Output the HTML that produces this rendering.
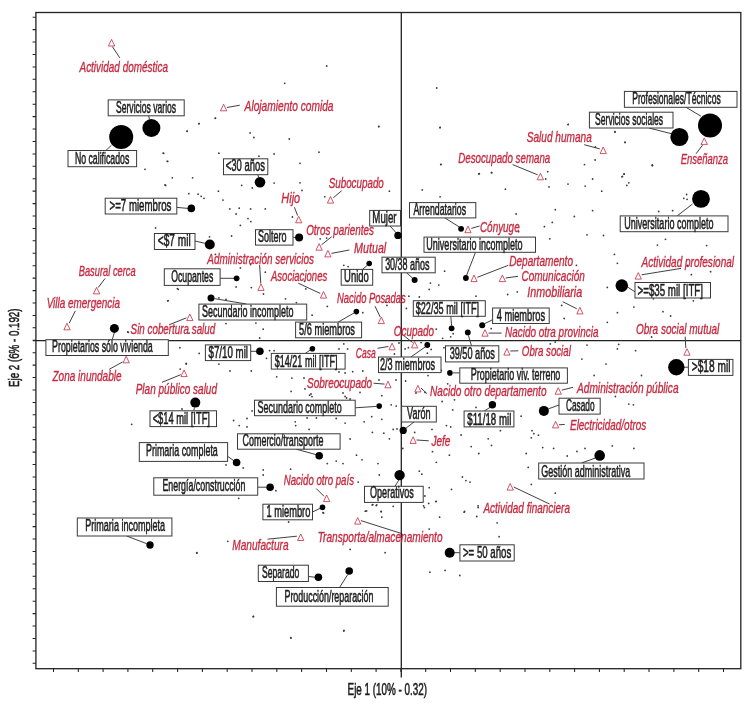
<!DOCTYPE html>
<html><head><meta charset="utf-8"><title>Eje 1 / Eje 2</title>
<style>html,body{margin:0;padding:0;background:#fff}svg{display:block}text{font-family:"Liberation Sans",sans-serif}.b{fill:#1c1c1c;font-size:15.7px;stroke:#1c1c1c;stroke-width:.55px}.r{fill:#c52b40;font-size:14.6px;font-style:italic;stroke:#c52b40;stroke-width:.36px}.bx{fill:#fff;stroke:#3a3a3a;stroke-width:1}.ld{stroke:#363636;stroke-width:.95;fill:none}.tr{fill:#fff;stroke:#c52b40;stroke-width:.8;stroke-linejoin:miter}.d{fill:#000}.s{fill:#3c3c3c}.ax{stroke:#222;stroke-width:1.3;fill:none}.tk{stroke:#222;stroke-width:1.05;fill:none}</style></head><body>
<svg width="750" height="709" viewBox="0 0 750 709" style="will-change:transform;transform:translateZ(0)">
<g>
<rect x="0" y="0" width="750" height="709" fill="#fff"/>
<path class="tk" d="M53.5 668.7V672.0M78.3 668.7V672.0M103.1 668.7V672.0M127.9 668.7V672.0M152.7 668.7V672.0M177.6 668.7V672.0M202.4 668.7V672.0M227.2 668.7V672.0M252.0 668.7V672.0M276.8 668.7V672.0M301.6 668.7V672.0M326.5 668.7V672.0M351.3 668.7V672.0M376.1 668.7V672.0M400.9 668.7V672.0M425.7 668.7V672.0M450.5 668.7V672.0M475.3 668.7V672.0M500.2 668.7V672.0M525.0 668.7V672.0M549.8 668.7V672.0M574.6 668.7V672.0M599.4 668.7V672.0M624.2 668.7V672.0M649.0 668.7V672.0M673.9 668.7V672.0M698.7 668.7V672.0M723.5 668.7V672.0M35.9 17.2H32.6M35.9 29.6H32.6M35.9 42.0H32.6M35.9 54.5H32.6M35.9 66.9H32.6M35.9 79.3H32.6M35.9 91.8H32.6M35.9 104.2H32.6M35.9 116.6H32.6M35.9 129.0H32.6M35.9 141.4H32.6M35.9 153.9H32.6M35.9 166.3H32.6M35.9 178.7H32.6M35.9 191.1H32.6M35.9 203.6H32.6M35.9 216.0H32.6M35.9 228.4H32.6M35.9 240.8H32.6M35.9 253.3H32.6M35.9 265.7H32.6M35.9 278.1H32.6M35.9 290.6H32.6M35.9 303.0H32.6M35.9 315.4H32.6M35.9 327.8H32.6M35.9 340.2H32.6M35.9 352.7H32.6M35.9 365.1H32.6M35.9 377.5H32.6M35.9 389.9H32.6M35.9 402.4H32.6M35.9 414.8H32.6M35.9 427.2H32.6M35.9 439.6H32.6M35.9 452.1H32.6M35.9 464.5H32.6M35.9 476.9H32.6M35.9 489.4H32.6M35.9 501.8H32.6M35.9 514.2H32.6M35.9 526.6H32.6M35.9 539.0H32.6M35.9 551.5H32.6M35.9 563.9H32.6M35.9 576.3H32.6M35.9 588.8H32.6M35.9 601.2H32.6M35.9 613.6H32.6M35.9 626.0H32.6M35.9 638.5H32.6M35.9 650.9H32.6M35.9 663.3H32.6"/>
<g class="s"><circle cx="199.0" cy="123.7" r=".9"/><circle cx="215.3" cy="118.3" r=".9"/><circle cx="187.0" cy="131.3" r=".9"/><circle cx="163.7" cy="153.3" r=".9"/><circle cx="167.7" cy="161.3" r=".9"/><circle cx="145.0" cy="169.3" r=".9"/><circle cx="326.7" cy="66.0" r=".9"/><circle cx="284.7" cy="83.3" r=".9"/><circle cx="378.7" cy="126.7" r=".9"/><circle cx="436.7" cy="88.0" r=".9"/><circle cx="440.0" cy="127.7" r=".9"/><circle cx="441.0" cy="164.3" r=".9"/><circle cx="479.3" cy="173.7" r=".9"/><circle cx="491.7" cy="172.7" r=".9"/><circle cx="568.3" cy="124.3" r=".9"/><circle cx="652.3" cy="165.0" r=".9"/><circle cx="165.0" cy="185.0" r=".9"/><circle cx="127.7" cy="332.0" r=".9"/><circle cx="131.7" cy="424.3" r=".9"/><circle cx="253.3" cy="616.7" r=".9"/><circle cx="290.7" cy="637.7" r=".9"/><circle cx="344.0" cy="630.3" r=".9"/><circle cx="196.7" cy="553.0" r=".9"/><circle cx="215.4" cy="118.2" r=".9"/><circle cx="198.9" cy="123.6" r=".9"/><circle cx="187.2" cy="131.2" r=".9"/><circle cx="250.1" cy="132.9" r=".9"/><circle cx="253.9" cy="137.5" r=".9"/><circle cx="289.3" cy="139.0" r=".9"/><circle cx="163.2" cy="153.2" r=".9"/><circle cx="218.9" cy="153.2" r=".9"/><circle cx="258.9" cy="156.2" r=".9"/><circle cx="274.1" cy="154.0" r=".9"/><circle cx="319.0" cy="152.2" r=".9"/><circle cx="167.2" cy="161.3" r=".9"/><circle cx="300.0" cy="163.3" r=".9"/><circle cx="172.3" cy="177.8" r=".9"/><circle cx="192.6" cy="177.8" r=".9"/><circle cx="165.7" cy="185.4" r=".9"/><circle cx="274.1" cy="183.1" r=".9"/><circle cx="241.7" cy="185.4" r=".9"/><circle cx="252.3" cy="187.9" r=".9"/><circle cx="300.0" cy="182.8" r=".9"/><circle cx="302.0" cy="190.4" r=".9"/><circle cx="188.8" cy="193.7" r=".9"/><circle cx="198.1" cy="194.2" r=".9"/><circle cx="201.2" cy="196.3" r=".9"/><circle cx="204.0" cy="198.3" r=".9"/><circle cx="218.4" cy="191.2" r=".9"/><circle cx="223.0" cy="200.1" r=".9"/><circle cx="324.8" cy="196.8" r=".9"/><circle cx="229.8" cy="208.9" r=".9"/><circle cx="239.2" cy="208.2" r=".9"/><circle cx="250.6" cy="208.9" r=".9"/><circle cx="236.1" cy="214.0" r=".9"/><circle cx="265.3" cy="208.9" r=".9"/><circle cx="248.0" cy="218.6" r=".9"/><circle cx="250.8" cy="221.6" r=".9"/><circle cx="240.4" cy="225.4" r=".9"/><circle cx="292.4" cy="217.0" r=".9"/><circle cx="155.6" cy="227.9" r=".9"/><circle cx="231.6" cy="236.0" r=".9"/><circle cx="209.5" cy="236.8" r=".9"/><circle cx="326.6" cy="238.1" r=".9"/><circle cx="320.2" cy="238.8" r=".9"/><circle cx="378.8" cy="126.3" r=".9"/><circle cx="440.1" cy="127.4" r=".9"/><circle cx="440.8" cy="164.6" r=".9"/><circle cx="478.8" cy="174.0" r=".9"/><circle cx="491.5" cy="172.7" r=".9"/><circle cx="389.4" cy="191.2" r=".9"/><circle cx="422.3" cy="189.9" r=".9"/><circle cx="440.1" cy="196.8" r=".9"/><circle cx="505.4" cy="189.2" r=".9"/><circle cx="516.1" cy="214.0" r=".9"/><circle cx="518.6" cy="231.7" r=".9"/><circle cx="568.0" cy="124.6" r=".9"/><circle cx="614.9" cy="131.7" r=".9"/><circle cx="625.0" cy="142.3" r=".9"/><circle cx="595.4" cy="146.9" r=".9"/><circle cx="595.1" cy="160.0" r=".9"/><circle cx="584.5" cy="164.6" r=".9"/><circle cx="652.4" cy="165.4" r=".9"/><circle cx="547.7" cy="171.7" r=".9"/><circle cx="545.7" cy="179.0" r=".9"/><circle cx="624.2" cy="174.2" r=".9"/><circle cx="622.0" cy="176.8" r=".9"/><circle cx="592.6" cy="179.0" r=".9"/><circle cx="568.0" cy="184.1" r=".9"/><circle cx="585.2" cy="186.1" r=".9"/><circle cx="549.0" cy="186.9" r=".9"/><circle cx="628.8" cy="182.8" r=".9"/><circle cx="626.8" cy="185.4" r=".9"/><circle cx="601.7" cy="191.2" r=".9"/><circle cx="686.6" cy="194.5" r=".9"/><circle cx="683.8" cy="198.3" r=".9"/><circle cx="687.1" cy="199.3" r=".9"/><circle cx="555.3" cy="209.7" r=".9"/><circle cx="592.6" cy="210.7" r=".9"/><circle cx="658.7" cy="211.5" r=".9"/><circle cx="672.6" cy="210.7" r=".9"/><circle cx="574.3" cy="216.5" r=".9"/><circle cx="552.3" cy="222.4" r=".9"/><circle cx="544.4" cy="226.7" r=".9"/><circle cx="587.0" cy="234.8" r=".9"/><circle cx="603.5" cy="235.5" r=".9"/><circle cx="549.8" cy="238.8" r=".9"/><circle cx="697.2" cy="228.7" r=".9"/><circle cx="665.5" cy="239.3" r=".9"/><circle cx="215.4" cy="254.4" r=".9"/><circle cx="240.4" cy="267.9" r=".9"/><circle cx="250.6" cy="264.6" r=".9"/><circle cx="265.3" cy="272.2" r=".9"/><circle cx="167.7" cy="300.8" r=".9"/><circle cx="177.4" cy="288.6" r=".9"/><circle cx="236.1" cy="286.9" r=".9"/><circle cx="251.3" cy="287.6" r=".9"/><circle cx="305.8" cy="288.9" r=".9"/><circle cx="304.5" cy="281.3" r=".9"/><circle cx="263.5" cy="294.0" r=".9"/><circle cx="285.5" cy="298.8" r=".9"/><circle cx="296.4" cy="302.6" r=".9"/><circle cx="218.9" cy="297.8" r=".9"/><circle cx="226.0" cy="299.5" r=".9"/><circle cx="327.3" cy="306.4" r=".9"/><circle cx="312.1" cy="315.2" r=".9"/><circle cx="255.9" cy="323.1" r=".9"/><circle cx="226.0" cy="323.6" r=".9"/><circle cx="263.2" cy="329.2" r=".9"/><circle cx="259.7" cy="338.0" r=".9"/><circle cx="186.2" cy="363.4" r=".9"/><circle cx="179.9" cy="347.7" r=".9"/><circle cx="218.9" cy="364.1" r=".9"/><circle cx="269.6" cy="350.7" r=".9"/><circle cx="266.5" cy="358.3" r=".9"/><circle cx="274.1" cy="350.7" r=".9"/><circle cx="291.9" cy="378.1" r=".9"/><circle cx="251.3" cy="371.0" r=".9"/><circle cx="276.7" cy="376.8" r=".9"/><circle cx="343.8" cy="265.3" r=".9"/><circle cx="348.1" cy="266.6" r=".9"/><circle cx="444.6" cy="271.2" r=".9"/><circle cx="430.4" cy="283.1" r=".9"/><circle cx="438.8" cy="285.1" r=".9"/><circle cx="429.2" cy="289.4" r=".9"/><circle cx="419.3" cy="297.0" r=".9"/><circle cx="476.0" cy="296.2" r=".9"/><circle cx="507.7" cy="294.5" r=".9"/><circle cx="517.3" cy="291.9" r=".9"/><circle cx="408.9" cy="296.2" r=".9"/><circle cx="386.9" cy="305.4" r=".9"/><circle cx="385.6" cy="302.1" r=".9"/><circle cx="406.4" cy="308.4" r=".9"/><circle cx="362.8" cy="312.7" r=".9"/><circle cx="436.3" cy="329.2" r=".9"/><circle cx="491.2" cy="328.7" r=".9"/><circle cx="442.6" cy="338.3" r=".9"/><circle cx="450.7" cy="336.8" r=".9"/><circle cx="453.2" cy="333.7" r=".9"/><circle cx="421.1" cy="342.6" r=".9"/><circle cx="408.4" cy="347.7" r=".9"/><circle cx="405.1" cy="348.9" r=".9"/><circle cx="443.9" cy="347.7" r=".9"/><circle cx="431.2" cy="349.4" r=".9"/><circle cx="343.8" cy="343.9" r=".9"/><circle cx="347.6" cy="348.9" r=".9"/><circle cx="427.4" cy="353.2" r=".9"/><circle cx="481.1" cy="351.5" r=".9"/><circle cx="352.7" cy="371.7" r=".9"/><circle cx="345.1" cy="373.0" r=".9"/><circle cx="362.8" cy="371.0" r=".9"/><circle cx="441.3" cy="370.5" r=".9"/><circle cx="657.4" cy="245.1" r=".9"/><circle cx="706.6" cy="245.6" r=".9"/><circle cx="614.4" cy="254.4" r=".9"/><circle cx="617.4" cy="263.3" r=".9"/><circle cx="576.4" cy="265.3" r=".9"/><circle cx="687.6" cy="265.3" r=".9"/><circle cx="691.4" cy="274.7" r=".9"/><circle cx="710.6" cy="271.7" r=".9"/><circle cx="607.3" cy="287.4" r=".9"/><circle cx="633.9" cy="307.1" r=".9"/><circle cx="617.4" cy="312.7" r=".9"/><circle cx="663.0" cy="311.7" r=".9"/><circle cx="670.6" cy="316.0" r=".9"/><circle cx="693.4" cy="300.8" r=".9"/><circle cx="653.4" cy="298.8" r=".9"/><circle cx="564.2" cy="318.5" r=".9"/><circle cx="607.3" cy="322.3" r=".9"/><circle cx="561.7" cy="305.4" r=".9"/><circle cx="555.3" cy="342.1" r=".9"/><circle cx="550.3" cy="343.9" r=".9"/><circle cx="587.0" cy="345.1" r=".9"/><circle cx="618.7" cy="344.4" r=".9"/><circle cx="617.4" cy="348.9" r=".9"/><circle cx="651.6" cy="337.0" r=".9"/><circle cx="606.0" cy="364.1" r=".9"/><circle cx="581.9" cy="359.1" r=".9"/><circle cx="635.6" cy="350.7" r=".9"/><circle cx="641.5" cy="375.5" r=".9"/><circle cx="594.1" cy="375.5" r=".9"/><circle cx="291.1" cy="391.4" r=".9"/><circle cx="305.0" cy="388.9" r=".9"/><circle cx="309.6" cy="395.2" r=".9"/><circle cx="252.1" cy="410.9" r=".9"/><circle cx="247.0" cy="418.5" r=".9"/><circle cx="233.6" cy="420.5" r=".9"/><circle cx="239.2" cy="425.6" r=".9"/><circle cx="247.0" cy="426.9" r=".9"/><circle cx="295.2" cy="421.8" r=".9"/><circle cx="307.1" cy="418.0" r=".9"/><circle cx="316.4" cy="418.0" r=".9"/><circle cx="336.2" cy="418.5" r=".9"/><circle cx="295.7" cy="425.6" r=".9"/><circle cx="309.1" cy="429.4" r=".9"/><circle cx="226.0" cy="464.9" r=".9"/><circle cx="243.2" cy="467.9" r=".9"/><circle cx="263.2" cy="469.9" r=".9"/><circle cx="263.2" cy="475.0" r=".9"/><circle cx="290.6" cy="469.2" r=".9"/><circle cx="275.9" cy="490.7" r=".9"/><circle cx="238.7" cy="498.3" r=".9"/><circle cx="336.2" cy="461.1" r=".9"/><circle cx="327.3" cy="463.6" r=".9"/><circle cx="323.5" cy="513.0" r=".9"/><circle cx="350.1" cy="399.0" r=".9"/><circle cx="345.1" cy="396.5" r=".9"/><circle cx="381.8" cy="395.7" r=".9"/><circle cx="391.2" cy="404.8" r=".9"/><circle cx="396.2" cy="406.1" r=".9"/><circle cx="371.7" cy="416.7" r=".9"/><circle cx="381.8" cy="419.3" r=".9"/><circle cx="364.1" cy="421.8" r=".9"/><circle cx="345.1" cy="423.1" r=".9"/><circle cx="372.4" cy="432.4" r=".9"/><circle cx="383.8" cy="433.2" r=".9"/><circle cx="393.2" cy="429.4" r=".9"/><circle cx="397.0" cy="428.9" r=".9"/><circle cx="350.1" cy="439.0" r=".9"/><circle cx="389.4" cy="438.8" r=".9"/><circle cx="356.5" cy="455.2" r=".9"/><circle cx="362.0" cy="459.8" r=".9"/><circle cx="378.0" cy="463.6" r=".9"/><circle cx="379.3" cy="475.0" r=".9"/><circle cx="358.2" cy="482.1" r=".9"/><circle cx="343.0" cy="463.6" r=".9"/><circle cx="402.8" cy="448.4" r=".9"/><circle cx="414.7" cy="432.4" r=".9"/><circle cx="432.0" cy="429.4" r=".9"/><circle cx="446.4" cy="425.6" r=".9"/><circle cx="450.7" cy="426.9" r=".9"/><circle cx="452.7" cy="409.9" r=".9"/><circle cx="442.1" cy="401.5" r=".9"/><circle cx="454.5" cy="399.8" r=".9"/><circle cx="447.7" cy="383.8" r=".9"/><circle cx="476.0" cy="407.4" r=".9"/><circle cx="521.1" cy="416.2" r=".9"/><circle cx="461.1" cy="435.0" r=".9"/><circle cx="488.2" cy="438.8" r=".9"/><circle cx="500.4" cy="430.7" r=".9"/><circle cx="471.2" cy="446.6" r=".9"/><circle cx="491.5" cy="445.4" r=".9"/><circle cx="432.5" cy="451.7" r=".9"/><circle cx="449.4" cy="455.2" r=".9"/><circle cx="478.8" cy="453.5" r=".9"/><circle cx="436.3" cy="462.3" r=".9"/><circle cx="419.3" cy="471.2" r=".9"/><circle cx="421.8" cy="474.2" r=".9"/><circle cx="462.4" cy="477.0" r=".9"/><circle cx="465.9" cy="480.6" r=".9"/><circle cx="470.0" cy="482.1" r=".9"/><circle cx="429.2" cy="487.7" r=".9"/><circle cx="451.5" cy="489.4" r=".9"/><circle cx="424.9" cy="496.0" r=".9"/><circle cx="435.8" cy="501.6" r=".9"/><circle cx="428.7" cy="503.4" r=".9"/><circle cx="372.2" cy="504.9" r=".9"/><circle cx="376.7" cy="504.9" r=".9"/><circle cx="365.3" cy="511.2" r=".9"/><circle cx="381.3" cy="511.7" r=".9"/><circle cx="464.1" cy="512.2" r=".9"/><circle cx="478.1" cy="505.9" r=".9"/><circle cx="423.6" cy="505.9" r=".9"/><circle cx="526.2" cy="453.5" r=".9"/><circle cx="528.2" cy="467.4" r=".9"/><circle cx="615.4" cy="396.5" r=".9"/><circle cx="628.8" cy="404.1" r=".9"/><circle cx="633.4" cy="404.8" r=".9"/><circle cx="532.0" cy="430.7" r=".9"/><circle cx="533.8" cy="433.7" r=".9"/><circle cx="531.3" cy="437.8" r=".9"/><circle cx="538.4" cy="435.2" r=".9"/><circle cx="542.7" cy="447.6" r=".9"/><circle cx="553.6" cy="448.4" r=".9"/><circle cx="567.2" cy="456.0" r=".9"/><circle cx="576.9" cy="451.4" r=".9"/><circle cx="585.0" cy="448.4" r=".9"/><circle cx="612.3" cy="445.9" r=".9"/><circle cx="633.9" cy="448.4" r=".9"/><circle cx="531.3" cy="484.4" r=".9"/><circle cx="555.3" cy="493.2" r=".9"/><circle cx="227.8" cy="541.3" r=".9"/><circle cx="196.9" cy="552.7" r=".9"/><circle cx="253.4" cy="616.5" r=".9"/><circle cx="291.1" cy="638.1" r=".9"/><circle cx="288.6" cy="522.0" r=".9"/><circle cx="323.0" cy="512.7" r=".9"/><circle cx="372.9" cy="504.6" r=".9"/><circle cx="376.2" cy="505.6" r=".9"/><circle cx="366.6" cy="510.9" r=".9"/><circle cx="381.0" cy="511.4" r=".9"/><circle cx="393.2" cy="506.3" r=".9"/><circle cx="381.8" cy="517.2" r=".9"/><circle cx="424.4" cy="507.6" r=".9"/><circle cx="436.3" cy="501.3" r=".9"/><circle cx="439.6" cy="517.2" r=".9"/><circle cx="464.6" cy="511.4" r=".9"/><circle cx="478.1" cy="507.6" r=".9"/><circle cx="476.8" cy="516.5" r=".9"/><circle cx="497.1" cy="522.8" r=".9"/><circle cx="499.1" cy="536.7" r=".9"/><circle cx="429.2" cy="529.1" r=".9"/><circle cx="350.1" cy="549.4" r=".9"/><circle cx="385.1" cy="552.7" r=".9"/><circle cx="429.9" cy="572.2" r=".9"/><circle cx="445.1" cy="570.4" r=".9"/><circle cx="459.8" cy="575.5" r=".9"/><circle cx="343.8" cy="631.0" r=".9"/><circle cx="178.2" cy="289.3" r=".9"/><circle cx="168.1" cy="300.7" r=".9"/><circle cx="128.3" cy="332.3" r=".9"/><circle cx="189.1" cy="333.1" r=".9"/><circle cx="199.2" cy="353.4" r=".9"/><circle cx="186.3" cy="364.0" r=".9"/><circle cx="180.2" cy="369.1" r=".9"/><circle cx="615.0" cy="132.0" r=".9"/><circle cx="625.0" cy="142.4" r=".9"/><circle cx="652.4" cy="165.6" r=".9"/><circle cx="624.0" cy="174.0" r=".9"/><circle cx="622.4" cy="176.4" r=".9"/><circle cx="182.0" cy="409.0" r=".9"/><circle cx="230.0" cy="371.0" r=".9"/><circle cx="339.0" cy="349.0" r=".9"/><circle cx="304.0" cy="378.0" r=".9"/><circle cx="339.0" cy="372.0" r=".9"/><circle cx="340.0" cy="385.0" r=".9"/><circle cx="343.0" cy="393.0" r=".9"/><circle cx="346.6" cy="398.0" r=".9"/><circle cx="360.0" cy="392.4" r=".9"/><circle cx="311.0" cy="394.0" r=".9"/><circle cx="312.0" cy="396.6" r=".9"/><circle cx="379.0" cy="380.0" r=".9"/><circle cx="396.0" cy="380.0" r=".9"/><circle cx="394.4" cy="354.0" r=".9"/><circle cx="399.0" cy="343.0" r=".9"/><circle cx="405.6" cy="381.0" r=".9"/><circle cx="428.0" cy="375.6" r=".9"/><circle cx="416.0" cy="393.0" r=".9"/><circle cx="425.0" cy="392.4" r=".9"/></g>
<rect class="ax" x="35.9" y="12.5" width="704.9" height="656.2"/>
<path class="ax" d="M401.3 12.5V677.5 M32.9 340.6H740.8"/>
<path class="ld" d="M112.3 46.5L119.8 57.8"/>
<path class="ld" d="M226.9 107.5L239.8 105.2"/>
<path class="ld" d="M341.7 190.7L333.3 197.8"/>
<path class="ld" d="M294.4 207.2L297.6 215.6"/>
<path class="ld" d="M331.7 236.7L321.5 244.8"/>
<path class="ld" d="M349.3 250.0L331.5 253.4"/>
<path class="ld" d="M259.6 264.8L260.8 283.5"/>
<path class="ld" d="M298.2 283.2L320.2 293.4"/>
<path class="ld" d="M375.0 306.2L380.2 317.0"/>
<path class="ld" d="M105.0 278.5L98.2 287.6"/>
<path class="ld" d="M75.4 310.8L69.2 323.1"/>
<path class="ld" d="M169.0 324.8L186.3 317.9"/>
<path class="ld" d="M122.5 362.0L109.2 369.3"/>
<path class="ld" d="M162.0 382.3L180.7 374.7"/>
<path class="ld" d="M377.5 348.3L388.4 346.5"/>
<path class="ld" d="M403.8 335.6L412.6 342.6"/>
<path class="ld" d="M373.5 383.2L384.6 384.1"/>
<path class="ld" d="M316.3 488.6L324.0 496.3"/>
<path class="ld" d="M296.9 536.2L267.5 539.2"/>
<path class="ld" d="M360.9 520.6L401.5 533.5"/>
<path class="ld" d="M416.6 440.0L428.8 440.8"/>
<path class="ld" d="M421.0 388.0L427.2 393.8"/>
<path class="ld" d="M513.7 487.0L549.5 504.0"/>
<path class="ld" d="M558.9 424.8L564.8 424.4"/>
<path class="ld" d="M561.8 390.1L573.0 387.3"/>
<path class="ld" d="M510.3 351.0L518.3 350.8"/>
<path class="ld" d="M685.2 336.6L685.8 348.0"/>
<path class="ld" d="M488.5 333.1L501.7 333.1"/>
<path class="ld" d="M562.7 301.7L576.8 308.8"/>
<path class="ld" d="M505.6 278.0L518.0 276.3"/>
<path class="ld" d="M477.3 277.3L508.3 265.3"/>
<path class="ld" d="M681.0 268.4L641.6 274.8"/>
<path class="ld" d="M471.3 228.4L479.6 226.0"/>
<path class="ld" d="M512.6 164.6L537.6 174.8"/>
<path class="ld" d="M584.2 144.7L599.8 148.9"/>
<path class="ld" d="M702.6 145.0L696.0 153.8"/>
<path class="tr" d="M111.6 39.4L114.8 46.0H108.4Z"/>
<path class="tr" d="M223.6 104.3L226.8 110.8H220.4Z"/>
<path class="tr" d="M330.5 196.5L333.6 203.1H327.4Z"/>
<path class="tr" d="M298.7 216.3L301.8 222.8H295.6Z"/>
<path class="tr" d="M319.1 243.6L322.2 250.2H316.0Z"/>
<path class="tr" d="M327.9 250.4L331.0 256.9H324.8Z"/>
<path class="tr" d="M261.0 283.9L264.1 290.4H257.9Z"/>
<path class="tr" d="M323.5 291.6L326.6 298.1H320.4Z"/>
<path class="tr" d="M381.3 317.0L384.4 323.6H378.2Z"/>
<path class="tr" d="M96.6 287.4L99.8 293.9H93.4Z"/>
<path class="tr" d="M67.0 323.2L70.2 329.8H63.9Z"/>
<path class="tr" d="M189.8 314.0L193.0 320.6H186.7Z"/>
<path class="tr" d="M126.2 356.2L129.3 362.8H123.0Z"/>
<path class="tr" d="M184.1 370.0L187.2 376.6H180.9Z"/>
<path class="tr" d="M392.1 343.2L395.2 349.8H389.0Z"/>
<path class="tr" d="M414.6 341.4L417.8 347.9H411.5Z"/>
<path class="tr" d="M388.0 381.2L391.1 387.8H384.9Z"/>
<path class="tr" d="M326.6 495.0L329.8 501.6H323.5Z"/>
<path class="tr" d="M300.7 534.0L303.8 540.5H297.6Z"/>
<path class="tr" d="M357.7 517.6L360.8 524.1H354.6Z"/>
<path class="tr" d="M413.1 436.8L416.2 443.4H410.0Z"/>
<path class="tr" d="M417.9 385.4L421.0 391.9H414.8Z"/>
<path class="tr" d="M510.2 483.5L513.4 490.1H507.1Z"/>
<path class="tr" d="M555.6 421.4L558.8 427.9H552.5Z"/>
<path class="tr" d="M558.3 387.7L561.4 394.2H555.1Z"/>
<path class="tr" d="M506.9 348.5L510.0 355.1H503.8Z"/>
<path class="tr" d="M687.0 348.7L690.1 355.2H683.9Z"/>
<path class="tr" d="M485.0 329.7L488.1 336.2H481.9Z"/>
<path class="tr" d="M579.9 307.3L583.0 313.9H576.8Z"/>
<path class="tr" d="M502.4 275.1L505.5 281.6H499.2Z"/>
<path class="tr" d="M474.0 275.0L477.1 281.6H470.9Z"/>
<path class="tr" d="M638.3 272.6L641.4 279.1H635.1Z"/>
<path class="tr" d="M468.0 226.1L471.1 232.7H464.9Z"/>
<path class="tr" d="M540.4 173.3L543.5 179.8H537.2Z"/>
<path class="tr" d="M603.2 147.0L606.4 153.6H600.1Z"/>
<path class="tr" d="M704.2 137.9L707.4 144.4H701.1Z"/>
<text class="r" x="79.50" y="71.8" textLength="88.48" lengthAdjust="spacingAndGlyphs">Actividad doméstica</text>
<text class="r" x="244.61" y="111.0" textLength="88.87" lengthAdjust="spacingAndGlyphs">Alojamiento comida</text>
<text class="r" x="328.71" y="187.7" textLength="55.10" lengthAdjust="spacingAndGlyphs">Subocupado</text>
<text class="r" x="281.37" y="203.0" textLength="18.78" lengthAdjust="spacingAndGlyphs">Hijo</text>
<text class="r" x="306.15" y="235.0" textLength="67.76" lengthAdjust="spacingAndGlyphs">Otros parientes</text>
<text class="r" x="354.08" y="253.3" textLength="32.17" lengthAdjust="spacingAndGlyphs">Mutual</text>
<text class="r" x="207.30" y="263.6" textLength="106.71" lengthAdjust="spacingAndGlyphs">Administración servicios</text>
<text class="r" x="270.98" y="280.6" textLength="56.24" lengthAdjust="spacingAndGlyphs">Asociaciones</text>
<text class="r" x="337.02" y="302.5" textLength="68.69" lengthAdjust="spacingAndGlyphs">Nacido Posadas</text>
<text class="r" x="78.72" y="276.4" textLength="57.00" lengthAdjust="spacingAndGlyphs">Basural cerca</text>
<text class="r" x="46.66" y="308.3" textLength="73.29" lengthAdjust="spacingAndGlyphs">Villa emergencia</text>
<text class="r" x="130.61" y="334.3" textLength="84.61" lengthAdjust="spacingAndGlyphs">Sin cobertura salud</text>
<text class="r" x="52.50" y="381.3" textLength="69.05" lengthAdjust="spacingAndGlyphs">Zona inundable</text>
<text class="r" x="135.70" y="394.0" textLength="81.32" lengthAdjust="spacingAndGlyphs">Plan público salud</text>
<text class="r" x="355.73" y="357.6" textLength="20.07" lengthAdjust="spacingAndGlyphs">Casa</text>
<text class="r" x="393.76" y="335.5" textLength="40.13" lengthAdjust="spacingAndGlyphs">Ocupado</text>
<text class="r" x="307.00" y="387.6" textLength="65.11" lengthAdjust="spacingAndGlyphs">Sobreocupado</text>
<text class="r" x="283.71" y="485.4" textLength="70.30" lengthAdjust="spacingAndGlyphs">Nacido otro país</text>
<text class="r" x="232.30" y="549.5" textLength="56.25" lengthAdjust="spacingAndGlyphs">Manufactura</text>
<text class="r" x="317.69" y="542.1" textLength="124.83" lengthAdjust="spacingAndGlyphs">Transporta/almacenamiento</text>
<text class="r" x="431.40" y="445.5" textLength="19.05" lengthAdjust="spacingAndGlyphs">Jefe</text>
<text class="r" x="430.10" y="395.7" textLength="116.43" lengthAdjust="spacingAndGlyphs">Nacido otro departamento</text>
<text class="r" x="483.40" y="512.6" textLength="86.57" lengthAdjust="spacingAndGlyphs">Actividad financiera</text>
<text class="r" x="570.00" y="430.3" textLength="76.20" lengthAdjust="spacingAndGlyphs">Electricidad/otros</text>
<text class="r" x="577.01" y="392.5" textLength="101.55" lengthAdjust="spacingAndGlyphs">Administración pública</text>
<text class="r" x="521.87" y="356.3" textLength="48.92" lengthAdjust="spacingAndGlyphs">Obra social</text>
<text class="r" x="635.95" y="333.8" textLength="83.32" lengthAdjust="spacingAndGlyphs">Obra social mutual</text>
<text class="r" x="505.00" y="336.8" textLength="93.43" lengthAdjust="spacingAndGlyphs">Nacido otra provincia</text>
<text class="r" x="527.37" y="297.4" textLength="54.84" lengthAdjust="spacingAndGlyphs">Inmobiliaria</text>
<text class="r" x="521.45" y="281.4" textLength="63.32" lengthAdjust="spacingAndGlyphs">Comunicación</text>
<text class="r" x="509.20" y="266.3" textLength="63.83" lengthAdjust="spacingAndGlyphs">Departamento</text>
<text class="r" x="641.50" y="266.6" textLength="92.58" lengthAdjust="spacingAndGlyphs">Actividad profesional</text>
<text class="r" x="479.95" y="231.6" textLength="39.72" lengthAdjust="spacingAndGlyphs">Cónyuge</text>
<text class="r" x="458.21" y="162.7" textLength="92.04" lengthAdjust="spacingAndGlyphs">Desocupado semana</text>
<text class="r" x="526.70" y="141.7" textLength="65.05" lengthAdjust="spacingAndGlyphs">Salud humana</text>
<text class="r" x="680.72" y="164.3" textLength="47.41" lengthAdjust="spacingAndGlyphs">Enseñanza</text>
<path class="ld" d="M148.6 115.8L149.5 119.5"/>
<path class="ld" d="M111.4 145.3L102.9 153.3"/>
<path class="ld" d="M257.7 174.7L259.0 178.0"/>
<path class="ld" d="M176.8 207.4L188.0 208.4"/>
<path class="ld" d="M195.0 241.0L205.0 243.3"/>
<path class="ld" d="M220.0 278.3L234.0 278.3"/>
<path class="ld" d="M214.4 298.6L246.3 304.0"/>
<path class="ld" d="M114.3 332.7L112.3 339.6"/>
<path class="ld" d="M250.7 351.3L256.0 351.3"/>
<path class="ld" d="M310.3 350.0L305.3 353.4"/>
<path class="ld" d="M354.2 312.9L338.2 322.1"/>
<path class="ld" d="M293.2 237.4L296.0 237.4"/>
<path class="ld" d="M390.0 226.0L396.5 233.2"/>
<path class="ld" d="M367.0 265.6L362.5 269.4"/>
<path class="ld" d="M406.5 272.8L412.7 278.2"/>
<path class="ld" d="M444.8 217.9L459.2 226.9"/>
<path class="ld" d="M475.5 252.3L466.6 275.2"/>
<path class="ld" d="M450.8 316.3L451.6 325.5"/>
<path class="ld" d="M484.5 323.7L492.6 319.7"/>
<path class="ld" d="M468.3 335.2L471.5 345.8"/>
<path class="ld" d="M425.2 347.0L410.8 357.0"/>
<path class="ld" d="M452.8 372.9L459.8 372.9"/>
<path class="ld" d="M490.0 407.4L484.2 411.0"/>
<path class="ld" d="M548.5 408.8L559.0 405.0"/>
<path class="ld" d="M414.0 422.0L405.7 428.4"/>
<path class="ld" d="M355.2 407.8L376.5 406.4"/>
<path class="ld" d="M296.2 449.2L316.0 454.6"/>
<path class="ld" d="M257.7 487.2L266.5 487.2"/>
<path class="ld" d="M227.6 456.3L233.8 460.7"/>
<path class="ld" d="M194.5 407.5L193.7 410.8"/>
<path class="ld" d="M126.7 536.0L146.5 543.6"/>
<path class="ld" d="M312.5 512.0L320.0 508.4"/>
<path class="ld" d="M398.8 480.1L395.0 486.3"/>
<path class="ld" d="M308.4 576.5L315.0 577.2"/>
<path class="ld" d="M347.7 574.7L339.5 587.5"/>
<path class="ld" d="M454.0 552.7L459.9 552.7"/>
<path class="ld" d="M595.4 458.0L581.5 463.0"/>
<path class="ld" d="M684.0 367.2L688.4 367.2"/>
<path class="ld" d="M627.5 287.0L635.0 291.8"/>
<path class="ld" d="M692.5 204.0L677.2 215.9"/>
<path class="ld" d="M649.0 128.0L671.0 133.6"/>
<path class="ld" d="M686.0 107.3L701.0 116.2"/>
<circle class="d" cx="151.4" cy="128.0" r="9.0"/>
<circle class="d" cx="121.2" cy="137.1" r="12.0"/>
<circle class="d" cx="260.0" cy="182.3" r="5.3"/>
<circle class="d" cx="191.3" cy="208.4" r="3.8"/>
<circle class="d" cx="209.8" cy="244.5" r="5.0"/>
<circle class="d" cx="236.6" cy="278.3" r="2.9"/>
<circle class="d" cx="211.0" cy="298.0" r="3.5"/>
<circle class="d" cx="114.4" cy="328.4" r="4.5"/>
<circle class="d" cx="259.9" cy="351.3" r="3.8"/>
<circle class="d" cx="312.4" cy="348.7" r="2.8"/>
<circle class="d" cx="356.4" cy="311.6" r="2.8"/>
<circle class="d" cx="299.1" cy="237.5" r="4.0"/>
<circle class="d" cx="398.0" cy="235.4" r="3.7"/>
<circle class="d" cx="369.2" cy="263.5" r="2.8"/>
<circle class="d" cx="414.6" cy="279.9" r="3.0"/>
<circle class="d" cx="461.1" cy="228.8" r="2.9"/>
<circle class="d" cx="465.9" cy="278.0" r="2.9"/>
<circle class="d" cx="451.6" cy="328.3" r="2.9"/>
<circle class="d" cx="482.2" cy="325.3" r="3.0"/>
<circle class="d" cx="467.8" cy="332.4" r="2.9"/>
<circle class="d" cx="427.3" cy="345.0" r="2.9"/>
<circle class="d" cx="449.9" cy="372.9" r="2.8"/>
<circle class="d" cx="492.4" cy="404.8" r="3.7"/>
<circle class="d" cx="543.9" cy="410.9" r="5.0"/>
<circle class="d" cx="403.2" cy="430.4" r="3.6"/>
<circle class="d" cx="379.2" cy="406.1" r="2.8"/>
<circle class="d" cx="319.2" cy="455.8" r="3.8"/>
<circle class="d" cx="270.1" cy="487.2" r="3.8"/>
<circle class="d" cx="236.6" cy="462.5" r="3.8"/>
<circle class="d" cx="195.3" cy="402.6" r="5.0"/>
<circle class="d" cx="150.0" cy="545.0" r="3.7"/>
<circle class="d" cx="322.5" cy="507.4" r="2.8"/>
<circle class="d" cx="399.6" cy="475.1" r="5.2"/>
<circle class="d" cx="318.4" cy="577.3" r="3.8"/>
<circle class="d" cx="349.2" cy="571.0" r="3.8"/>
<circle class="d" cx="449.7" cy="552.7" r="5.0"/>
<circle class="d" cx="599.7" cy="455.4" r="5.3"/>
<circle class="d" cx="676.3" cy="367.2" r="8.2"/>
<circle class="d" cx="621.8" cy="285.6" r="6.3"/>
<circle class="d" cx="701.0" cy="198.9" r="8.9"/>
<circle class="d" cx="679.4" cy="137.0" r="9.1"/>
<circle class="d" cx="710.0" cy="125.4" r="12.0"/>
<rect class="bx" x="108.2" y="99.9" width="76.0" height="15.9"/>
<text class="b" x="116.01" y="113.4" textLength="60.11" lengthAdjust="spacingAndGlyphs">Servicios varios</text>
<rect class="bx" x="68.0" y="150.5" width="68.6" height="16.2"/>
<text class="b" x="74.90" y="163.8" textLength="54.41" lengthAdjust="spacingAndGlyphs">No calificados</text>
<rect class="bx" x="223.5" y="158.8" width="44.3" height="15.9"/>
<text class="b" x="225.73" y="171.0" textLength="39.18" lengthAdjust="spacingAndGlyphs">&lt;30 años</text>
<rect class="bx" x="105.2" y="198.2" width="71.6" height="15.8"/>
<text class="b" x="109.52" y="211.1" textLength="61.84" lengthAdjust="spacingAndGlyphs">&gt;=7 miembros</text>
<rect class="bx" x="154.4" y="233.5" width="40.6" height="16.0"/>
<text class="b" x="157.79" y="246.4" textLength="32.88" lengthAdjust="spacingAndGlyphs">&lt;$7 mil</text>
<rect class="bx" x="164.3" y="268.8" width="55.8" height="16.6"/>
<text class="b" x="171.21" y="282.4" textLength="42.11" lengthAdjust="spacingAndGlyphs">Ocupantes</text>
<rect class="bx" x="198.9" y="304.1" width="107.8" height="15.9"/>
<text class="b" x="202.10" y="317.2" textLength="91.29" lengthAdjust="spacingAndGlyphs">Secundario incompleto</text>
<rect class="bx" x="45.9" y="339.7" width="122.4" height="15.8"/>
<text class="b" x="52.09" y="352.3" textLength="100.71" lengthAdjust="spacingAndGlyphs">Propietarios sólo vivienda</text>
<rect class="bx" x="205.4" y="344.9" width="45.3" height="15.7"/>
<text class="b" x="208.50" y="358.4" textLength="39.46" lengthAdjust="spacingAndGlyphs">$7/10 mil</text>
<rect class="bx" x="271.3" y="353.4" width="73.8" height="15.7"/>
<text class="b" x="274.71" y="366.9" textLength="62.84" lengthAdjust="spacingAndGlyphs">$14/21 mil [ITF]</text>
<rect class="bx" x="295.6" y="322.1" width="66.0" height="15.7"/>
<text class="b" x="299.03" y="335.1" textLength="55.97" lengthAdjust="spacingAndGlyphs">5/6 miembros</text>
<rect class="bx" x="255.5" y="229.7" width="37.5" height="15.4"/>
<text class="b" x="257.90" y="242.4" textLength="28.50" lengthAdjust="spacingAndGlyphs">Soltero</text>
<rect class="bx" x="369.7" y="210.4" width="30.8" height="15.6"/>
<text class="b" x="372.32" y="223.0" textLength="24.23" lengthAdjust="spacingAndGlyphs">Mujer</text>
<rect class="bx" x="341.2" y="269.4" width="31.5" height="15.8"/>
<text class="b" x="344.09" y="282.2" textLength="24.72" lengthAdjust="spacingAndGlyphs">Unido</text>
<rect class="bx" x="382.0" y="257.2" width="53.2" height="15.6"/>
<text class="b" x="385.14" y="270.0" textLength="44.36" lengthAdjust="spacingAndGlyphs">30/38 años</text>
<rect class="bx" x="409.5" y="202.6" width="66.3" height="15.3"/>
<text class="b" x="413.40" y="214.8" textLength="52.69" lengthAdjust="spacingAndGlyphs">Arrendatarios</text>
<rect class="bx" x="424.0" y="237.1" width="111.5" height="15.2"/>
<text class="b" x="426.32" y="249.8" textLength="96.25" lengthAdjust="spacingAndGlyphs">Universitario incompleto</text>
<rect class="bx" x="413.3" y="300.7" width="72.0" height="15.6"/>
<text class="b" x="415.71" y="314.1" textLength="63.45" lengthAdjust="spacingAndGlyphs">$22/35 mil [ITF]</text>
<rect class="bx" x="492.6" y="308.0" width="56.6" height="15.5"/>
<text class="b" x="496.71" y="321.1" textLength="48.40" lengthAdjust="spacingAndGlyphs">4 miembros</text>
<rect class="bx" x="445.5" y="345.8" width="53.3" height="16.1"/>
<text class="b" x="449.63" y="359.3" textLength="45.28" lengthAdjust="spacingAndGlyphs">39/50 años</text>
<rect class="bx" x="378.5" y="357.0" width="62.5" height="15.6"/>
<text class="b" x="379.94" y="369.5" textLength="55.15" lengthAdjust="spacingAndGlyphs">2/3 miembros</text>
<rect class="bx" x="459.8" y="367.9" width="107.6" height="15.3"/>
<text class="b" x="470.78" y="380.2" textLength="89.59" lengthAdjust="spacingAndGlyphs">Propietario viv. terreno</text>
<rect class="bx" x="464.1" y="411.0" width="49.8" height="15.9"/>
<text class="b" x="467.30" y="424.6" textLength="44.02" lengthAdjust="spacingAndGlyphs">$11/18 mil</text>
<rect class="bx" x="559.0" y="398.2" width="41.2" height="15.9"/>
<text class="b" x="565.99" y="411.2" textLength="28.56" lengthAdjust="spacingAndGlyphs">Casado</text>
<rect class="bx" x="401.6" y="406.3" width="34.7" height="15.7"/>
<text class="b" x="407.05" y="419.3" textLength="23.53" lengthAdjust="spacingAndGlyphs">Varón</text>
<rect class="bx" x="254.5" y="400.2" width="100.7" height="15.5"/>
<text class="b" x="257.60" y="412.6" textLength="84.06" lengthAdjust="spacingAndGlyphs">Secundario completo</text>
<rect class="bx" x="237.5" y="433.8" width="102.6" height="15.4"/>
<text class="b" x="242.55" y="446.2" textLength="80.94" lengthAdjust="spacingAndGlyphs">Comercio/transporte</text>
<rect class="bx" x="153.8" y="477.8" width="103.9" height="17.4"/>
<text class="b" x="162.49" y="490.8" textLength="82.87" lengthAdjust="spacingAndGlyphs">Energía/construcción</text>
<rect class="bx" x="139.3" y="442.6" width="88.3" height="18.8"/>
<text class="b" x="145.99" y="456.2" textLength="71.84" lengthAdjust="spacingAndGlyphs">Primaria completa</text>
<rect class="bx" x="150.0" y="410.8" width="66.5" height="15.8"/>
<text class="b" x="152.63" y="423.9" textLength="57.33" lengthAdjust="spacingAndGlyphs">&lt;$14 mil [ITF]</text>
<rect class="bx" x="77.3" y="518.0" width="94.6" height="18.0"/>
<text class="b" x="85.28" y="531.2" textLength="79.84" lengthAdjust="spacingAndGlyphs">Primaria incompleta</text>
<rect class="bx" x="262.9" y="504.2" width="49.6" height="15.6"/>
<text class="b" x="266.40" y="517.2" textLength="43.96" lengthAdjust="spacingAndGlyphs">1 miembro</text>
<rect class="bx" x="364.5" y="486.3" width="58.7" height="16.1"/>
<text class="b" x="370.09" y="498.2" textLength="43.63" lengthAdjust="spacingAndGlyphs">Operativos</text>
<rect class="bx" x="258.3" y="565.2" width="50.1" height="16.3"/>
<text class="b" x="262.01" y="578.4" textLength="37.35" lengthAdjust="spacingAndGlyphs">Separado</text>
<rect class="bx" x="276.4" y="587.5" width="111.8" height="18.7"/>
<text class="b" x="284.49" y="601.9" textLength="88.90" lengthAdjust="spacingAndGlyphs">Producción/reparación</text>
<rect class="bx" x="459.9" y="544.8" width="54.3" height="16.2"/>
<text class="b" x="462.92" y="558.0" textLength="48.42" lengthAdjust="spacingAndGlyphs">&gt;= 50 años</text>
<rect class="bx" x="538.7" y="463.0" width="105.3" height="16.0"/>
<text class="b" x="541.35" y="476.6" textLength="88.98" lengthAdjust="spacingAndGlyphs">Gestión administrativa</text>
<rect class="bx" x="688.4" y="359.4" width="44.5" height="16.0"/>
<text class="b" x="691.69" y="372.3" textLength="38.80" lengthAdjust="spacingAndGlyphs">&gt;$18 mil</text>
<rect class="bx" x="635.0" y="282.5" width="75.5" height="15.5"/>
<text class="b" x="637.51" y="295.5" textLength="65.51" lengthAdjust="spacingAndGlyphs">&gt;=$35 mil [ITF]</text>
<rect class="bx" x="620.2" y="215.9" width="107.8" height="15.8"/>
<text class="b" x="624.32" y="228.8" textLength="89.16" lengthAdjust="spacingAndGlyphs">Universitario completo</text>
<rect class="bx" x="589.4" y="112.2" width="83.6" height="15.8"/>
<text class="b" x="595.12" y="125.3" textLength="67.96" lengthAdjust="spacingAndGlyphs">Servicios sociales</text>
<rect class="bx" x="624.4" y="91.4" width="112.6" height="15.9"/>
<text class="b" x="632.22" y="104.4" textLength="88.47" lengthAdjust="spacingAndGlyphs">Profesionales/Técnicos</text>
<text class="b" x="347.6" y="694.9" textLength="79.5" lengthAdjust="spacingAndGlyphs">Eje 1 (10% - 0.32)</text>
<text class="b" style="font-size:15.2px" transform="translate(19.0 387) rotate(-90)" x="0" y="0" textLength="78.5" lengthAdjust="spacingAndGlyphs">Eje 2 (6% - 0.192)</text>
</g></svg></body></html>
